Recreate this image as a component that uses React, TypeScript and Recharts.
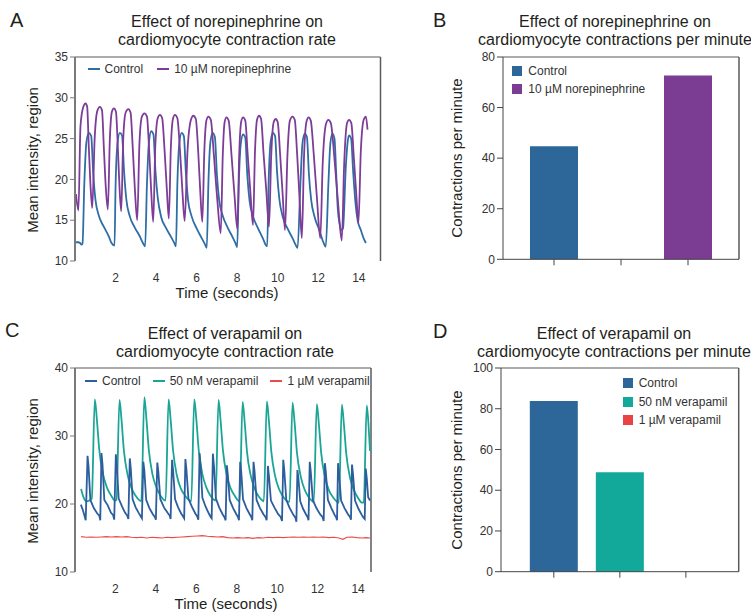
import React from "react";
import { LineChart, Line, BarChart, Bar, XAxis, YAxis, ReferenceLine, Legend } from "recharts";

const FONT = '"Liberation Sans", Arial, Helvetica, sans-serif';
const TEXT = "#231f20";
const TICK = "#333333";
const FRAME = "#5a5a5a";

// ---------- Panel A : norepinephrine traces ----------
const timeTicks = [2, 4, 6, 8, 10, 12, 14];
const ticksA = [10, 15, 20, 25, 30, 35];
const namesA = ["Control", "10 µM norepinephrine"];

const controlA: [number, number][] = [
  [0.05, 12.3], [0.15, 12.3], [0.25, 12.2], [0.32, 12.0], [0.37, 12.1],
  [0.46, 19.5], [0.56, 24.5], [0.68, 25.7], [0.8, 25.3], [0.9, 20.7], [1.01, 17.5], [1.17, 15.6], [1.42, 14.2], [1.67, 13.0], [1.8, 12.2], [1.95, 11.9],
  [2.0, 19.0], [2.1, 24.5], [2.21, 25.7], [2.32, 25.4], [2.42, 21.0], [2.53, 17.6], [2.7, 15.5], [2.95, 14.1], [3.2, 13.0], [3.35, 12.2], [3.46, 11.8],
  [3.55, 19.5], [3.65, 24.6], [3.76, 25.9], [3.87, 25.5], [3.97, 21.0], [4.08, 17.8], [4.25, 15.4], [4.5, 14.0], [4.75, 12.9], [4.9, 12.2], [4.98, 11.8],
  [5.05, 19.5], [5.15, 24.5], [5.26, 25.7], [5.37, 25.3], [5.47, 20.8], [5.58, 17.4], [5.75, 15.5], [6.0, 14.0], [6.25, 12.8], [6.4, 12.1], [6.5, 11.6],
  [6.58, 19.5], [6.68, 24.6], [6.79, 25.7], [6.9, 25.2], [7.0, 20.6], [7.11, 17.5], [7.28, 15.6], [7.53, 14.1], [7.78, 12.9], [7.93, 12.1], [8.0, 11.7],
  [8.08, 19.5], [8.18, 24.4], [8.29, 25.5], [8.4, 25.1], [8.5, 20.5], [8.61, 17.4], [8.78, 15.5], [9.03, 14.0], [9.28, 12.7], [9.4, 12.0], [9.48, 11.8],
  [9.55, 19.5], [9.65, 24.6], [9.76, 25.7], [9.87, 25.3], [9.97, 20.8], [10.08, 17.6], [10.25, 15.4], [10.5, 13.9], [10.75, 12.7], [10.88, 12.0], [10.98, 11.6],
  [11.12, 19.5], [11.22, 24.4], [11.33, 25.6], [11.44, 25.2], [11.54, 20.6], [11.65, 17.5], [11.82, 15.4], [12.05, 13.8], [12.25, 12.3], [12.37, 11.75],
  [12.5, 19.5], [12.6, 24.5], [12.7, 25.6], [12.8, 25.0], [12.88, 21.0], [12.96, 16.5], [13.05, 14.6], [13.15, 13.8], [13.22, 14.0],
  [13.36, 21.6], [13.45, 24.6], [13.52, 25.4], [13.62, 25.0], [13.72, 21.0], [13.84, 17.0], [13.94, 15.0], [14.1, 13.8], [14.25, 12.7], [14.35, 12.2],
];

const norepiA: [number, number][] = [
  [0.05, 18.2], [0.17, 16.2],
  [0.27, 26.5], [0.4, 28.8], [0.52, 29.3], [0.6, 28.9], [0.68, 24.0], [0.76, 19.5], [0.85, 16.5],
  [0.97, 25.0], [1.1, 28.4], [1.23, 28.9], [1.33, 28.5], [1.43, 23.5], [1.52, 19.0], [1.62, 16.3],
  [1.72, 25.0], [1.82, 28.3], [1.92, 28.7], [2.02, 28.3], [2.12, 23.5], [2.2, 18.8], [2.28, 16.1],
  [2.38, 25.0], [2.5, 28.2], [2.63, 28.6], [2.74, 28.2], [2.85, 23.8], [2.96, 18.5], [3.07, 15.0],
  [3.18, 24.5], [3.3, 27.7], [3.43, 28.1], [3.55, 27.7], [3.66, 23.5], [3.76, 18.5], [3.86, 14.8],
  [3.96, 24.0], [4.08, 27.5], [4.19, 27.9], [4.3, 27.5], [4.42, 23.5], [4.53, 18.8], [4.63, 15.2],
  [4.73, 24.0], [4.83, 27.4], [4.93, 27.9], [5.05, 27.5], [5.18, 23.5], [5.3, 18.5], [5.41, 14.9],
  [5.55, 23.5], [5.72, 27.3], [5.84, 27.8], [5.96, 27.4], [6.08, 23.3], [6.18, 18.5], [6.28, 14.8],
  [6.38, 23.5], [6.48, 27.2], [6.58, 27.7], [6.7, 27.3], [6.85, 23.0], [7.02, 17.5], [7.19, 13.4],
  [7.29, 23.0], [7.38, 27.0], [7.47, 27.6], [7.58, 27.2], [7.72, 23.0], [7.87, 18.0], [8.01, 13.9],
  [8.1, 23.0], [8.2, 27.1], [8.29, 27.6], [8.4, 27.2], [8.52, 23.0], [8.65, 18.5], [8.78, 14.4],
  [8.88, 23.5], [8.98, 27.3], [9.08, 27.8], [9.18, 27.4], [9.3, 23.2], [9.44, 18.5], [9.57, 14.2],
  [9.68, 23.0], [9.8, 27.0], [9.9, 27.4], [10.0, 27.0], [10.12, 23.0], [10.24, 18.3], [10.36, 13.8],
  [10.48, 23.0], [10.6, 27.2], [10.73, 27.7], [10.84, 27.3], [10.96, 23.0], [11.08, 17.5], [11.19, 12.8],
  [11.3, 23.0], [11.42, 27.1], [11.52, 27.6], [11.63, 27.2], [11.78, 23.0], [11.94, 17.5], [12.1, 12.8],
  [12.22, 22.0], [12.38, 26.8], [12.5, 27.3], [12.62, 26.9], [12.8, 22.5], [12.98, 17.0], [13.16, 12.5],
  [13.28, 22.0], [13.42, 26.9], [13.52, 27.3], [13.63, 26.9], [13.76, 22.5], [13.88, 18.0], [13.98, 14.6],
  [14.1, 23.5], [14.24, 27.3], [14.35, 27.7], [14.43, 26.1],
];

// ---------- Panel B : contractions per minute ----------
const categoriesB = ["Control", "10 µM norepinephrine"];
const valuesB = [44.7, 72.7];
const ticksB = [0, 20, 40, 60, 80];

// ---------- Panel C : verapamil traces ----------
const ticksC = [10, 20, 30, 40];
const namesC = ["Control", "50 nM verapamil", "1 µM verapamil"];

const controlC: [number, number][] = [
  [0.29, 19.9], [0.4, 19.0], [0.53, 17.6],
  [0.62, 27.1], [0.67, 25.5], [0.76, 20.6], [0.93, 19.4], [1.1, 18.6], [1.2, 18.3], [1.25, 17.6],
  [1.31, 27.5], [1.36, 25.8], [1.45, 20.6], [1.62, 19.8], [1.78, 18.7], [1.88, 18.4], [1.94, 17.7],
  [2.02, 27.3], [2.07, 25.6], [2.16, 20.8], [2.33, 19.6], [2.48, 18.7], [2.58, 18.3], [2.64, 17.8],
  [2.71, 26.7], [2.76, 25.2], [2.85, 20.7], [3.0, 19.5], [3.15, 18.7], [3.25, 18.2], [3.31, 17.9],
  [3.38, 26.2], [3.43, 24.9], [3.52, 20.6], [3.68, 19.4], [3.85, 18.5], [3.95, 18.1], [4.0, 17.7],
  [4.07, 26.1], [4.12, 24.8], [4.22, 20.7], [4.4, 19.5], [4.58, 18.7], [4.68, 18.3], [4.73, 17.8],
  [4.8, 26.5], [4.85, 25.0], [4.95, 20.7], [5.1, 19.5], [5.25, 18.6], [5.34, 18.2], [5.4, 17.9],
  [5.46, 26.6], [5.51, 25.1], [5.61, 20.8], [5.78, 19.6], [5.95, 18.6], [6.04, 18.2], [6.1, 17.7],
  [6.16, 27.5], [6.21, 25.8], [6.3, 20.9], [6.46, 19.6], [6.62, 18.6], [6.71, 18.1], [6.76, 17.9],
  [6.82, 27.4], [6.87, 25.7], [6.97, 20.8], [7.13, 19.5], [7.3, 18.5], [7.4, 18.0], [7.45, 17.6],
  [7.51, 25.7], [7.56, 24.3], [7.65, 20.6], [7.82, 19.4], [7.98, 18.5], [8.06, 18.1], [8.11, 17.6],
  [8.17, 26.2], [8.22, 24.8], [8.31, 20.7], [8.48, 19.4], [8.64, 18.5], [8.72, 18.1], [8.77, 17.6],
  [8.83, 26.2], [8.88, 24.8], [8.98, 20.6], [9.15, 19.4], [9.32, 18.5], [9.42, 18.1], [9.48, 17.6],
  [9.54, 25.6], [9.59, 24.2], [9.69, 20.5], [9.88, 19.4], [10.05, 18.5], [10.17, 18.1], [10.24, 17.5],
  [10.3, 26.5], [10.35, 25.0], [10.45, 20.6], [10.62, 19.4], [10.8, 18.4], [10.9, 18.0], [10.95, 17.4],
  [11.0, 25.0], [11.05, 23.8], [11.14, 20.4], [11.28, 19.3], [11.42, 18.5], [11.5, 18.1], [11.55, 17.6],
  [11.61, 26.2], [11.66, 24.8], [11.76, 20.6], [11.94, 19.4], [12.12, 18.5], [12.24, 18.1], [12.3, 17.5],
  [12.36, 26.0], [12.41, 24.6], [12.51, 20.6], [12.68, 19.4], [12.84, 18.4], [12.92, 18.0], [12.96, 17.6],
  [13.01, 26.0], [13.06, 24.6], [13.16, 20.5], [13.33, 19.4], [13.5, 18.5], [13.6, 18.1], [13.65, 17.7],
  [13.7, 25.8], [13.75, 24.4], [13.85, 20.5], [14.02, 19.3], [14.18, 18.4], [14.27, 18.0], [14.33, 17.8],
  [14.38, 25.2], [14.43, 23.8], [14.5, 21.0], [14.59, 20.5],
];

const vera50C: [number, number][] = [
  [0.3, 22.2], [0.42, 21.0], [0.55, 20.4], [0.7, 20.5], [0.83, 20.8],
  [0.98, 35.4], [1.08, 32.5], [1.2, 28.0], [1.38, 24.5], [1.58, 22.4], [1.78, 21.3], [1.98, 20.5], [2.05, 20.6],
  [2.2, 35.3], [2.3, 32.4], [2.42, 27.8], [2.6, 24.3], [2.8, 22.3], [3.0, 21.2], [3.2, 20.5], [3.28, 20.4],
  [3.43, 35.7], [3.53, 32.6], [3.65, 28.0], [3.83, 24.4], [4.03, 22.4], [4.23, 21.2], [4.4, 20.6], [4.48, 20.5],
  [4.63, 35.4], [4.73, 32.4], [4.85, 27.9], [5.03, 24.3], [5.23, 22.3], [5.43, 21.3], [5.63, 20.6], [5.75, 20.4],
  [5.9, 35.4], [6.0, 32.5], [6.12, 27.9], [6.3, 24.4], [6.5, 22.4], [6.7, 21.2], [6.88, 20.6], [6.95, 20.5],
  [7.1, 35.3], [7.2, 32.3], [7.32, 27.8], [7.5, 24.3], [7.7, 22.3], [7.9, 21.2], [8.07, 20.5], [8.14, 20.4],
  [8.29, 35.0], [8.39, 32.1], [8.51, 27.6], [8.69, 24.2], [8.89, 22.2], [9.09, 21.1], [9.27, 20.5], [9.34, 20.4],
  [9.49, 35.1], [9.59, 32.2], [9.71, 27.7], [9.89, 24.2], [10.09, 22.2], [10.29, 21.1], [10.5, 20.4], [10.61, 20.3],
  [10.76, 34.9], [10.86, 32.0], [10.98, 27.5], [11.16, 24.1], [11.36, 22.1], [11.56, 21.0], [11.74, 20.4], [11.81, 20.3],
  [11.96, 34.7], [12.06, 31.8], [12.18, 27.4], [12.36, 24.0], [12.56, 22.0], [12.76, 21.0], [12.98, 20.3], [13.05, 20.2],
  [13.2, 34.6], [13.3, 31.7], [13.42, 27.3], [13.6, 23.9], [13.8, 22.0], [14.0, 20.9], [14.2, 20.2], [14.28, 20.2],
  [14.43, 34.5], [14.52, 31.5], [14.59, 27.8],
];

const vera1C: [number, number][] = [
  [0.3, 15.2], [0.55, 15.1], [0.8, 15.15], [1.05, 15.1], [1.3, 15.15], [1.55, 15.2], [1.8, 15.15], [2.05, 15.2],
  [2.3, 15.15], [2.55, 15.2], [2.8, 15.1], [3.05, 15.05], [3.3, 15.1], [3.55, 15.0], [3.8, 15.1], [4.05, 15.05],
  [4.3, 15.0], [4.55, 15.1], [4.8, 15.05], [5.05, 15.1], [5.3, 15.15], [5.55, 15.2], [5.8, 15.25], [6.05, 15.3],
  [6.3, 15.35], [6.55, 15.25], [6.8, 15.2], [7.05, 15.15], [7.3, 15.2], [7.55, 15.05], [7.8, 15.0], [8.05, 15.05],
  [8.3, 15.0], [8.55, 15.05], [8.8, 14.95], [9.05, 15.05], [9.3, 15.0], [9.55, 15.1], [9.8, 15.05], [10.05, 15.1],
  [10.3, 15.05], [10.55, 15.1], [10.8, 15.15], [11.05, 15.1], [11.3, 15.15], [11.55, 15.1], [11.8, 15.15],
  [12.05, 15.1], [12.3, 15.15], [12.55, 15.05], [12.8, 15.1], [13.05, 15.0], [13.25, 14.8], [13.45, 15.1],
  [13.7, 15.15], [13.95, 15.05], [14.2, 15.0], [14.4, 15.05], [14.59, 15.0],
];

// ---------- Panel D : contractions per minute ----------
const categoriesD = ["Control", "50 nM verapamil", "1 µM verapamil"];
const valuesD = [83.8, 48.8, 0];
const ticksD = [0, 20, 40, 60, 80, 100];

const rows = (pts: [number, number][]) => pts.map(([t, v]) => ({ t, v }));

const tickStyle = { fontSize: 12, fill: TICK, fontFamily: FONT };

const ordered = (payload: any[] = [], order: string[]) =>
  [...payload].sort((a, b) => order.indexOf(a.value) - order.indexOf(b.value));

function LineLegend(props: any) {
  const { payload = [], gap = 14, order = [] } = props;
  return (
    <div style={{ display: "flex", alignItems: "center", fontFamily: FONT, fontSize: 12, color: TICK, whiteSpace: "nowrap", height: 14, lineHeight: "14px" }}>
      {ordered(payload, order).map((p: any, i: number) => (
        <div key={i} style={{ display: "flex", alignItems: "center", marginRight: gap }}>
          <svg width={12} height={4} style={{ display: "block" }}>
            <line x1={0} y1={2} x2={12} y2={2} stroke={p.color} strokeWidth={2} />
          </svg>
          <span style={{ marginLeft: 5 }}>{p.value}</span>
        </div>
      ))}
    </div>
  );
}

function BarLegend(props: any) {
  const { payload = [], rowHeight = 18, order = [] } = props;
  return (
    <div style={{ fontFamily: FONT, fontSize: 12, color: TICK, whiteSpace: "nowrap" }}>
      {ordered(payload, order).map((p: any, i: number) => (
        <div key={i} style={{ display: "flex", alignItems: "center", height: rowHeight }}>
          <svg width={10} height={10} style={{ display: "block" }}>
            <rect x={0} y={0} width={10} height={10} fill={p.color} />
          </svg>
          <span style={{ marginLeft: 6 }}>{p.value}</span>
        </div>
      ))}
    </div>
  );
}

const legendBase = { layout: "horizontal" as const, align: "center" as const, verticalAlign: "middle" as const };

function Overlay() {
  const titleStyle = { fontFamily: FONT, fontSize: 16, fill: TEXT };
  const letterStyle = { fontFamily: FONT, fontSize: 20, fill: TEXT };
  const axisStyle = { fontFamily: FONT, fontSize: 15, fill: TEXT };
  return (
    <svg width={751} height={613} style={{ position: "absolute", left: 0, top: 0, pointerEvents: "none" }}>
      <text x={10} y={27} style={letterStyle}>A</text>
      <text x={433} y={27} style={letterStyle}>B</text>
      <text x={5} y={337} style={letterStyle}>C</text>
      <text x={433} y={338} style={letterStyle}>D</text>

      <text x={227} y={27} textAnchor="middle" style={titleStyle}>Effect of norepinephrine on</text>
      <text x={227} y={45} textAnchor="middle" style={titleStyle}>cardiomyocyte contraction rate</text>
      <text x={615} y={27} textAnchor="middle" style={titleStyle}>Effect of norepinephrine on</text>
      <text x={615} y={45} textAnchor="middle" style={titleStyle}>cardiomyocyte contractions per minute</text>
      <text x={225} y={339} textAnchor="middle" style={titleStyle}>Effect of verapamil on</text>
      <text x={225} y={357} textAnchor="middle" style={titleStyle}>cardiomyocyte contraction rate</text>
      <text x={614} y={339} textAnchor="middle" style={titleStyle}>Effect of verapamil on</text>
      <text x={614} y={357} textAnchor="middle" style={titleStyle}>cardiomyocyte contractions per minute</text>

      <text transform="translate(38,160) rotate(-90)" textAnchor="middle" style={axisStyle}>Mean intensity, region</text>
      <text transform="translate(38,471) rotate(-90)" textAnchor="middle" style={axisStyle}>Mean intensity, region</text>
      <text transform="translate(462,158) rotate(-90)" textAnchor="middle" style={axisStyle}>Contractions per minute</text>
      <text transform="translate(462,470) rotate(-90)" textAnchor="middle" style={axisStyle}>Contractions per minute</text>

      <text x={227} y={298} textAnchor="middle" style={axisStyle}>Time (seconds)</text>
      <text x={226} y={609} textAnchor="middle" style={axisStyle}>Time (seconds)</text>
    </svg>
  );
}

export default function App() {
  const xMaxA = 15.07;
  const xMaxC = 14.64;
  const dataB = categoriesB.map((c, i) => ({ pos: i * 2, name: c, [c]: valuesB[i] }));
  const dataD = categoriesD.map((c, i) => ({ pos: i, name: c, [c]: valuesD[i] }));
  const colorsB = ["#2d6699", "#7b3c93"];
  const colorsD = ["#2d6699", "#12a89a", "#e94343"];

  return (
    <div style={{ position: "absolute", left: 0, top: 0, width: 751, height: 613, background: "#ffffff", fontFamily: FONT }}>
      {/* Panel A */}
      <div style={{ position: "absolute", left: 0, top: 0 }}>
        <LineChart width={390} height={300} margin={{ top: 57, right: 9.5, bottom: 9, left: 30 }}>
          <XAxis type="number" dataKey="t" domain={[0, xMaxA]} ticks={timeTicks} allowDataOverflow
            axisLine={false} tickLine={false} tickSize={6} tickMargin={6} height={30} tick={tickStyle} />
          <YAxis type="number" domain={[10, 35]} ticks={ticksA} width={45} allowDataOverflow
            axisLine={{ stroke: "#7a7a7a", strokeWidth: 2 }} tickLine={{ stroke: "#7a7a7a" }} tickSize={5} tickMargin={2} tick={tickStyle} />
          <ReferenceLine y={35} stroke={FRAME} strokeWidth={1.2} />
          <ReferenceLine x={xMaxA} stroke={FRAME} strokeWidth={1.5} />
          <Line data={rows(controlA)} dataKey="v" name={namesA[0]} type="monotone" stroke="#2f6ea5" strokeWidth={1.8} dot={false} activeDot={false} isAnimationActive={false} />
          <Line data={rows(norepiA)} dataKey="v" name={namesA[1]} type="monotone" stroke="#7d3c98" strokeWidth={1.8} dot={false} activeDot={false} isAnimationActive={false} />
          <Legend {...legendBase} wrapperStyle={{ top: 62, left: 87.5, width: "auto", height: "auto" }}
            content={(p: any) => <LineLegend {...p} gap={14} order={namesA} />} />
        </LineChart>
      </div>

      {/* Panel B */}
      <div style={{ position: "absolute", left: 390, top: 0 }}>
        <BarChart width={361} height={300} data={dataB} margin={{ top: 57, right: 12, bottom: 10.7, left: 68 }}>
          <XAxis type="number" dataKey="pos" domain={[-0.761, 2.761]} ticks={[0, 1, 2]} allowDataOverflow
            tickFormatter={() => ""} axisLine={{ stroke: "#444" }} tickLine={{ stroke: "#444" }} tickSize={6} height={30} tick={tickStyle} />
          <YAxis type="number" domain={[0, 80]} ticks={ticksB} width={45}
            axisLine={{ stroke: "#444" }} tickLine={{ stroke: "#444" }} tickSize={6} tickMargin={2} tick={tickStyle} />
          <ReferenceLine y={80} stroke={FRAME} strokeWidth={1.2} />
          <ReferenceLine x={2.761} stroke={FRAME} strokeWidth={1.5} />
          {categoriesB.map((c, i) => (
            <Bar key={c} dataKey={c} name={c} stackId="s" fill={colorsB[i]} barSize={48} isAnimationActive={false} />
          ))}
          <Legend {...legendBase} wrapperStyle={{ top: 62.7, left: 122.3, width: "auto", height: "auto" }}
            content={(p: any) => <BarLegend {...p} rowHeight={17.6} order={categoriesB} />} />
        </BarChart>
      </div>

      {/* Panel C */}
      <div style={{ position: "absolute", left: 0, top: 310 }}>
        <LineChart width={390} height={300} margin={{ top: 58, right: 19, bottom: 8, left: 30 }}>
          <XAxis type="number" dataKey="t" domain={[0, xMaxC]} ticks={timeTicks} allowDataOverflow
            axisLine={false} tickLine={false} tickSize={6} tickMargin={6} height={30} tick={tickStyle} />
          <YAxis type="number" domain={[10, 40]} ticks={ticksC} width={45} allowDataOverflow
            axisLine={{ stroke: "#7a7a7a", strokeWidth: 2 }} tickLine={{ stroke: "#7a7a7a" }} tickSize={5} tickMargin={2} tick={tickStyle} />
          <ReferenceLine y={40} stroke={FRAME} strokeWidth={1.2} />
          <ReferenceLine x={xMaxC} stroke={FRAME} strokeWidth={1.5} />
          <Line data={rows(vera1C)} dataKey="v" name={namesC[2]} type="linear" stroke="#ec4a4a" strokeWidth={1.1} dot={false} activeDot={false} isAnimationActive={false} />
          <Line data={rows(vera50C)} dataKey="v" name={namesC[1]} type="monotone" stroke="#1aa596" strokeWidth={1.8} dot={false} activeDot={false} isAnimationActive={false} />
          <Line data={rows(controlC)} dataKey="v" name={namesC[0]} type="linear" stroke="#2c5d9c" strokeWidth={1.8} dot={false} activeDot={false} isAnimationActive={false} />
          <Legend {...legendBase} wrapperStyle={{ top: 63.7, left: 85, width: "auto", height: "auto" }}
            content={(p: any) => <LineLegend {...p} gap={12} order={namesC} />} />
        </LineChart>
      </div>

      {/* Panel D */}
      <div style={{ position: "absolute", left: 390, top: 310 }}>
        <BarChart width={361} height={300} data={dataD} margin={{ top: 58, right: 12.3, bottom: 8.3, left: 66 }}>
          <XAxis type="number" dataKey="pos" domain={[-0.8, 2.8]} ticks={[0, 1, 2]} allowDataOverflow
            tickFormatter={() => ""} axisLine={{ stroke: "#444" }} tickLine={{ stroke: "#444" }} tickSize={6} height={30} tick={tickStyle} />
          <YAxis type="number" domain={[0, 100]} ticks={ticksD} width={45}
            axisLine={{ stroke: "#444" }} tickLine={{ stroke: "#444" }} tickSize={6} tickMargin={2} tick={tickStyle} />
          <ReferenceLine y={100} stroke={FRAME} strokeWidth={1.2} />
          <ReferenceLine x={2.8} stroke={FRAME} strokeWidth={1.5} />
          {categoriesD.map((c, i) => (
            <Bar key={c} dataKey={c} name={c} stackId="s" fill={colorsD[i]} barSize={48} isAnimationActive={false} />
          ))}
          <Legend {...legendBase} wrapperStyle={{ top: 64.3, left: 232.7, width: "auto", height: "auto" }}
            content={(p: any) => <BarLegend {...p} rowHeight={18.3} order={categoriesD} />} />
        </BarChart>
      </div>

      <Overlay />
    </div>
  );
}
